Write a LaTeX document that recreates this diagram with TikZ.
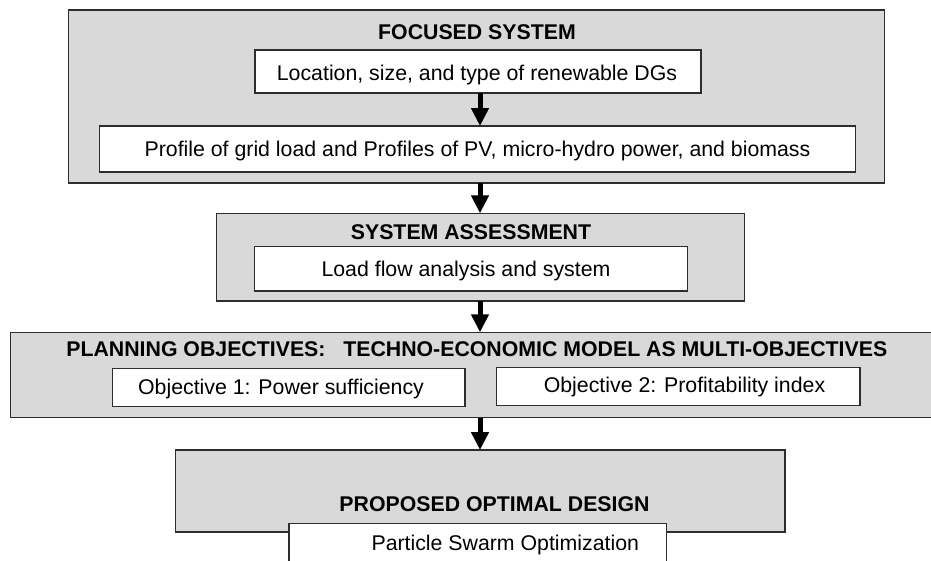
\documentclass[tikz,border=0pt]{standalone}
\usepackage{fontspec}
\setmainfont{Liberation Sans}
\usetikzlibrary{arrows.meta}

\definecolor{boxgray}{RGB}{217,217,217}
\definecolor{edgegray}{RGB}{45,45,45}

\tikzset{
  panel/.style={draw=edgegray,fill=boxgray,line width=1.2pt,inner sep=0pt,outer sep=0pt},
  itembox/.style={draw=edgegray,fill=white,line width=1.2pt,inner sep=0pt,outer sep=0pt},
  heading/.style={font=\fontsize{21.3}{25}\selectfont\bfseries,inner sep=0pt,anchor=base},
  body/.style={font=\fontsize{21.3}{25}\selectfont,inner sep=0pt,anchor=base},
  flow/.style={line width=5pt,-{Triangle[width=17pt,length=18pt]}}
}

\begin{document}
\begin{tikzpicture}[x=1pt,y=-1pt]
\useasboundingbox (0,0) rectangle (931,560);
\coordinate (axis) at (480,0);

\node[panel,minimum width=816pt,minimum height=173pt] (focus) at (476.3,96.5) {};
\node[heading] (focustitle) at (477,39) {FOCUSED SYSTEM};
\node[itembox,minimum width=446pt,minimum height=43pt] (location) at (478,71.5) {};
\node[body] (locationtext) at (477,80) {Location, size, and type of renewable DGs};
\node[itembox,minimum width=756.4pt,minimum height=46pt] (profile) at (477.5,149) {};
\node[body] (profiletext) at (477.5,156) {Profile of grid load and Profiles of PV, micro-hydro power, and biomass};

\node[panel,minimum width=527.6pt,minimum height=87.7pt] (assess) at (480.5,257.2) {};
\node[heading] (assesstitle) at (471,239.3) {SYSTEM ASSESSMENT};
\node[itembox,minimum width=433pt,minimum height=44.3pt] (loadflow) at (471,268.8) {};
\node[body] (loadflowtext) at (466,276.5) {Load flow analysis and system};

\node[panel,minimum width=934.3pt,minimum height=85.4pt] (planning) at (477.9,375) {};
\node[heading] (planningtitle) at (476.8,356.7) {PLANNING OBJECTIVES:\ \ \ TECHNO-ECONOMIC MODEL AS MULTI-OBJECTIVES};
\node[itembox,minimum width=352.7pt,minimum height=38.4pt] (objone) at (288.6,387.5) {};
\node[body] (objonetext) at (281,394.5) {Objective 1: Power sufficiency};
\node[itembox,minimum width=363.3pt,minimum height=38pt] (objtwo) at (678.4,386.7) {};
\node[body] (objtwotext) at (684.5,392) {Objective 2: Profitability index};

\node[panel,minimum width=609.3pt,minimum height=82pt] (design) at (480.4,491) {};
\node[heading] (designtitle) at (494.5,511.7) {PROPOSED OPTIMAL DESIGN};
\node[itembox,minimum width=377.7pt,minimum height=41.7pt] (pso) at (477.9,544.2) {};
\node[body] (psotext) at (505.3,550) {Particle Swarm Optimization};

\draw[flow] (location.south -| axis) -- (profile.north -| axis);
\draw[flow] (focus.south -| axis) -- (assess.north -| axis);
\draw[flow] (assess.south -| axis) -- (planning.north -| axis);
\draw[flow] (planning.south -| axis) -- (design.north -| axis);
\end{tikzpicture}
\end{document}
